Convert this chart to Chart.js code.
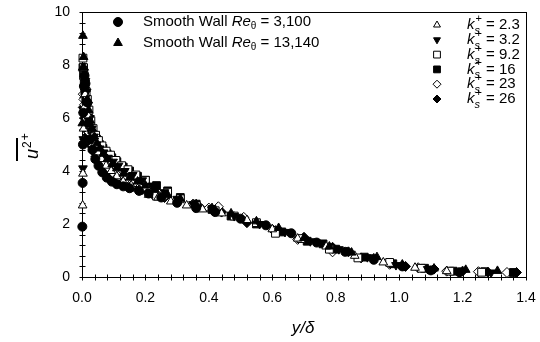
<!DOCTYPE html>
<html>
<head>
<meta charset="utf-8">
<script src="https://cdn.jsdelivr.net/npm/chart.js@4"></script>
<style>
  html, body { margin: 0; padding: 0; background: #fff; }
  #chart { display: block; }
</style>
</head>
<body>
<canvas id="chart" width="540" height="342"></canvas>
<script>
// y/delta positions and u'^2+ values
const smooth3100X = [0.001, 0.002, 0.003, 0.004, 0.006, 0.008, 0.011, 0.015, 0.02, 0.026, 0.033, 0.042, 0.052, 0.064, 0.078, 0.094, 0.11, 0.13, 0.15, 0.18, 0.21, 0.25, 0.3, 0.36, 0.42, 0.5, 0.58, 0.66, 0.74, 0.83, 0.92, 1.01, 1.1, 1.19]
const smooth3100Y = [1.9, 3.55, 5.0, 6.2, 7.2, 7.6, 7.3, 6.6, 5.8, 5.2, 4.8, 4.45, 4.2, 3.95, 3.75, 3.6, 3.5, 3.42, 3.35, 3.25, 3.15, 3.0, 2.8, 2.6, 2.45, 2.2, 1.95, 1.65, 1.3, 0.95, 0.65, 0.4, 0.25, 0.18]

const smooth13140X = [0.001, 0.002, 0.003, 0.005, 0.007, 0.01, 0.013, 0.017, 0.021, 0.026, 0.032, 0.039, 0.047, 0.056, 0.067, 0.08, 0.095, 0.11, 0.13, 0.15, 0.175, 0.2, 0.23, 0.27, 0.31, 0.36, 0.41, 0.47, 0.55, 0.62, 0.7, 0.78, 0.85, 0.93, 1.01, 1.11, 1.21, 1.31]
const smooth13140Y = [5.8, 7.9, 9.1, 8.3, 7.9, 7.5, 7.1, 6.7, 6.3, 5.9, 5.6, 5.3, 5.05, 4.85, 4.65, 4.45, 4.25, 4.1, 3.9, 3.75, 3.6, 3.45, 3.3, 3.1, 2.95, 2.75, 2.6, 2.4, 2.1, 1.85, 1.47, 1.15, 0.92, 0.75, 0.47, 0.32, 0.27, 0.23]

const ks23X = [0.002, 0.003, 0.005, 0.007, 0.01, 0.014, 0.019, 0.025, 0.032, 0.04, 0.05, 0.062, 0.076, 0.092, 0.11, 0.13, 0.155, 0.18, 0.21, 0.24, 0.28, 0.33, 0.38, 0.44, 0.52, 0.6, 0.68, 0.77, 0.86, 0.95, 1.05, 1.15]
const ks23Y = [2.7, 3.9, 5.6, 6.4, 6.9, 6.6, 6.1, 5.7, 5.3, 5.0, 4.7, 4.45, 4.2, 4.0, 3.8, 3.6, 3.45, 3.3, 3.1, 3.0, 2.85, 2.7, 2.55, 2.4, 2.15, 1.8, 1.45, 1.15, 0.8, 0.55, 0.35, 0.22]

const ks32X = [0.003, 0.004, 0.006, 0.008, 0.011, 0.015, 0.02, 0.025, 0.031, 0.038, 0.046, 0.056, 0.068, 0.082, 0.098, 0.115, 0.135, 0.16, 0.19, 0.22, 0.26, 0.3, 0.35, 0.41, 0.48, 0.56, 0.64, 0.72, 0.81, 0.9, 0.99, 1.09, 1.19, 1.29]
const ks32Y = [4.1, 5.2, 6.3, 7.0, 7.4, 7.0, 6.5, 6.0, 5.6, 5.3, 5.0, 4.85, 4.7, 4.5, 4.35, 4.2, 4.0, 3.85, 3.65, 3.45, 3.2, 2.95, 2.75, 2.55, 2.3, 2.0, 1.7, 1.35, 1.05, 0.75, 0.45, 0.3, 0.2, 0.17]

const ks92X = [0.003, 0.005, 0.007, 0.01, 0.013, 0.017, 0.022, 0.028, 0.035, 0.043, 0.052, 0.063, 0.076, 0.09, 0.107, 0.125, 0.145, 0.17, 0.2, 0.235, 0.27, 0.31, 0.36, 0.42, 0.48, 0.55, 0.61, 0.69, 0.78, 0.87, 0.97, 1.07, 1.16, 1.26]
const ks92Y = [8.26, 7.9, 7.6, 7.3, 7.0, 6.7, 6.3, 5.9, 5.6, 5.35, 5.15, 4.95, 4.75, 4.6, 4.4, 4.2, 4.05, 3.85, 3.65, 3.05, 3.2, 2.95, 2.7, 2.5, 2.3, 2.05, 1.65, 1.45, 1.05, 0.72, 0.55, 0.33, 0.22, 0.18]

const ks16X = [0.003, 0.005, 0.007, 0.009, 0.012, 0.016, 0.02, 0.025, 0.031, 0.038, 0.046, 0.055, 0.066, 0.079, 0.094, 0.11, 0.13, 0.15, 0.175, 0.2, 0.235, 0.27, 0.31, 0.36, 0.41, 0.47, 0.55, 0.63, 0.71, 0.76, 0.8, 0.89, 0.98, 1.08, 1.17, 1.27, 1.36]
const ks16Y = [7.9, 7.6, 7.3, 7.0, 6.7, 6.4, 6.1, 5.8, 5.55, 5.35, 5.2, 5.0, 4.85, 4.65, 4.5, 4.35, 4.15, 4.0, 3.8, 3.65, 3.45, 3.25, 3.0, 2.75, 2.55, 2.3, 2.0, 1.7, 1.35, 1.25, 1.05, 0.75, 0.5, 0.33, 0.22, 0.2, 0.17]

const ks23bX = [0.004, 0.006, 0.008, 0.011, 0.014, 0.018, 0.023, 0.029, 0.036, 0.044, 0.054, 0.066, 0.08, 0.096, 0.115, 0.135, 0.16, 0.19, 0.22, 0.26, 0.3, 0.35, 0.4, 0.43, 0.51, 0.6, 0.68, 0.79, 0.88, 0.97, 1.06, 1.15, 1.25, 1.34]
const ks23bY = [6.9, 6.7, 6.5, 6.2, 5.95, 5.7, 5.45, 5.2, 4.95, 4.75, 4.55, 4.35, 4.15, 3.95, 3.8, 3.65, 3.5, 3.35, 3.2, 3.05, 2.9, 2.75, 2.6, 2.65, 2.25, 1.8, 1.42, 0.95, 0.72, 0.48, 0.35, 0.22, 0.2, 0.17]

const ks26X = [0.004, 0.006, 0.008, 0.011, 0.014, 0.018, 0.023, 0.029, 0.036, 0.044, 0.054, 0.066, 0.08, 0.096, 0.115, 0.135, 0.16, 0.19, 0.22, 0.26, 0.3, 0.37, 0.44, 0.52, 0.61, 0.7, 0.79, 0.84, 0.92, 1.02, 1.11, 1.2, 1.28, 1.37]
const ks26Y = [6.4, 6.2, 6.0, 5.75, 5.55, 5.35, 5.15, 4.95, 4.75, 4.55, 4.35, 4.15, 3.95, 3.8, 3.65, 3.5, 3.4, 3.3, 3.15, 3.0, 2.85, 2.65, 2.45, 2.05, 1.75, 1.5, 1.12, 0.95, 0.7, 0.4, 0.3, 0.22, 0.18, 0.17]

const xTicks = [0, 0.2, 0.4, 0.6, 0.8, 1.0, 1.2, 1.4]
const yTicks = [0, 2, 4, 6, 8, 10]

const series = [
  { label: "3,100", xs: smooth3100X, ys: smooth3100Y, style: "circle", filled: true, r: 4.5 },
  { label: "13,140", xs: smooth13140X, ys: smooth13140Y, style: "triangle", filled: true, r: 5 },
  { label: "2.3", xs: ks23X, ys: ks23Y, style: "triangle", filled: false, r: 5 },
  { label: "3.2", xs: ks32X, ys: ks32Y, style: "triangle", rot: 180, filled: true, r: 5 },
  { label: "9.2", xs: ks92X, ys: ks92Y, style: "rect", filled: false, r: 5.5 },
  { label: "16", xs: ks16X, ys: ks16Y, style: "rect", filled: true, r: 5.5 },
  { label: "23", xs: ks23bX, ys: ks23bY, style: "rectRot", filled: false, r: 5 },
  { label: "26", xs: ks26X, ys: ks26Y, style: "rectRot", filled: true, r: 5 },
]

const FONT = "'Liberation Sans', Arial, sans-serif"

const marker = (ctx, s, x, y, r) => {
  ctx.save()
  ctx.fillStyle = s.filled ? "#000" : "#fff"
  ctx.strokeStyle = "#000"
  ctx.lineWidth = 1
  Chart.helpers.drawPoint(ctx, { pointStyle: s.style, rotation: s.rot || 0, radius: r, borderWidth: 1 }, x, y)
  ctx.restore()
}

// draw a list of text pieces one after another
const runs = (ctx, x, y, parts) => {
  ctx.textBaseline = "middle"
  ctx.textAlign = "left"
  parts.forEach(p => {
    ctx.font = p.font
    ctx.fillText(p.t, x + (p.dx || 0), y + (p.dy || 0))
    if (!p.noAdvance) x += ctx.measureText(p.t).width + (p.dx || 0)
  })
}

const frameTicks = {
  id: "frameTicks",
  beforeDatasetsDraw(chart) {
    const { ctx, chartArea: a, scales } = chart
    ctx.save()
    ctx.strokeStyle = "#000"
    ctx.lineWidth = 1
    const L = Math.round(a.left) + 0.5, R = Math.round(a.right) + 0.5
    const T = Math.round(a.top) + 0.5, B = Math.round(a.bottom) + 0.5
    ctx.strokeRect(L, T, R - L, B - T)
    ctx.beginPath()
    for (let i = 0; i <= 35; i++) {
      const px = Math.round(scales.x.getPixelForValue(i * 0.04)) + 0.5
      ctx.moveTo(px, B - 3)
      ctx.lineTo(px, B + 3)
    }
    for (let i = 0; i <= 25; i++) {
      const py = Math.round(scales.y.getPixelForValue(i * 0.4)) + 0.5
      ctx.moveTo(L - 3, py)
      ctx.lineTo(L + 3, py)
    }
    ctx.stroke()
    ctx.restore()
  },
  afterDraw(chart) {
    const { ctx } = chart
    ctx.save()
    ctx.fillStyle = "#000"

    // left legend
    series.slice(0, 2).forEach((s, i) => {
      const y = 22 + i * 21
      marker(ctx, s, 118, y, s.style === "circle" ? 4.5 : 5)
      runs(ctx, 143, y, [
        { t: "Smooth Wall ", font: `15px ${FONT}` },
        { t: "Re", font: `italic 15px ${FONT}` },
        { t: "θ", font: `10px ${FONT}`, dy: 4 },
        { t: " = " + s.label, font: `15px ${FONT}` },
      ])
    })

    // right legend
    series.slice(2).forEach((s, i) => {
      const y = 25 + i * 14.8
      marker(ctx, s, 437, y, s.style === "rect" ? 4.8 : 4)
      runs(ctx, 467, y, [
        { t: "k", font: `italic 15px ${FONT}` },
        { t: "s", font: `italic 11px ${FONT}`, dy: 6, noAdvance: true },
        { t: "+", font: `11px ${FONT}`, dx: 1, dy: -6 },
        { t: " = " + s.label, font: `15px ${FONT}` },
      ])
    })

    // x title
    ctx.font = `italic 17px ${FONT}`
    ctx.textAlign = "center"
    ctx.textBaseline = "alphabetic"
    ctx.fillText("y/δ", 303, 333)

    // y title, rotated: overline over u^2, then superscript +
    ctx.translate(38, 161)
    ctx.rotate(-Math.PI / 2)
    ctx.textAlign = "left"
    ctx.font = `italic 18px ${FONT}`
    ctx.fillText("u", 2, 0)
    const uw = ctx.measureText("u").width
    ctx.font = `12px ${FONT}`
    ctx.fillText("2", 3 + uw, -7)
    const tw = ctx.measureText("2").width
    ctx.fillText("+", 4 + uw + tw, -9)
    ctx.fillRect(0, -22, 23, 2)
    ctx.restore()
  }
}

const datasets = series.map(s => ({
  label: s.label,
  data: s.xs.map((x, i) => ({ x: x, y: s.ys[i] })),
  pointStyle: s.style,
  rotation: s.rot || 0,
  pointRadius: s.r,
  backgroundColor: s.filled ? "#000" : "#fff",
  borderColor: "#000",
  borderWidth: 1,
  clip: false,
}))

new Chart(document.getElementById("chart"), {
  type: "scatter",
  data: { datasets: datasets },
  options: {
    responsive: false,
    animation: false,
    devicePixelRatio: 1,
    layout: { padding: { top: 12, right: 14, left: 0, bottom: 0 } },
    plugins: { legend: { display: false }, tooltip: { enabled: false } },
    scales: {
      x: {
        type: "linear", min: 0, max: 1.4,
        afterBuildTicks: sc => { sc.ticks = xTicks.map(v => ({ value: v })) },
        afterFit: sc => { sc.height = 65; sc.paddingLeft = 0; sc.paddingRight = 0 },
        grid: { display: false, drawTicks: false },
        border: { display: false },
        ticks: { color: "#000", font: { family: FONT, size: 14 }, padding: 13, maxRotation: 0, callback: v => v.toFixed(1) },
      },
      y: {
        type: "linear", min: 0, max: 10,
        afterBuildTicks: sc => { sc.ticks = yTicks.map(v => ({ value: v })) },
        afterFit: sc => { sc.width = 82; sc.paddingTop = 0; sc.paddingBottom = 0 },
        grid: { display: false, drawTicks: false },
        border: { display: false },
        ticks: { color: "#000", font: { family: FONT, size: 14 }, padding: 12, callback: v => String(v) },
      },
    },
  },
  plugins: [frameTicks],
})
</script>
</body>
</html>
